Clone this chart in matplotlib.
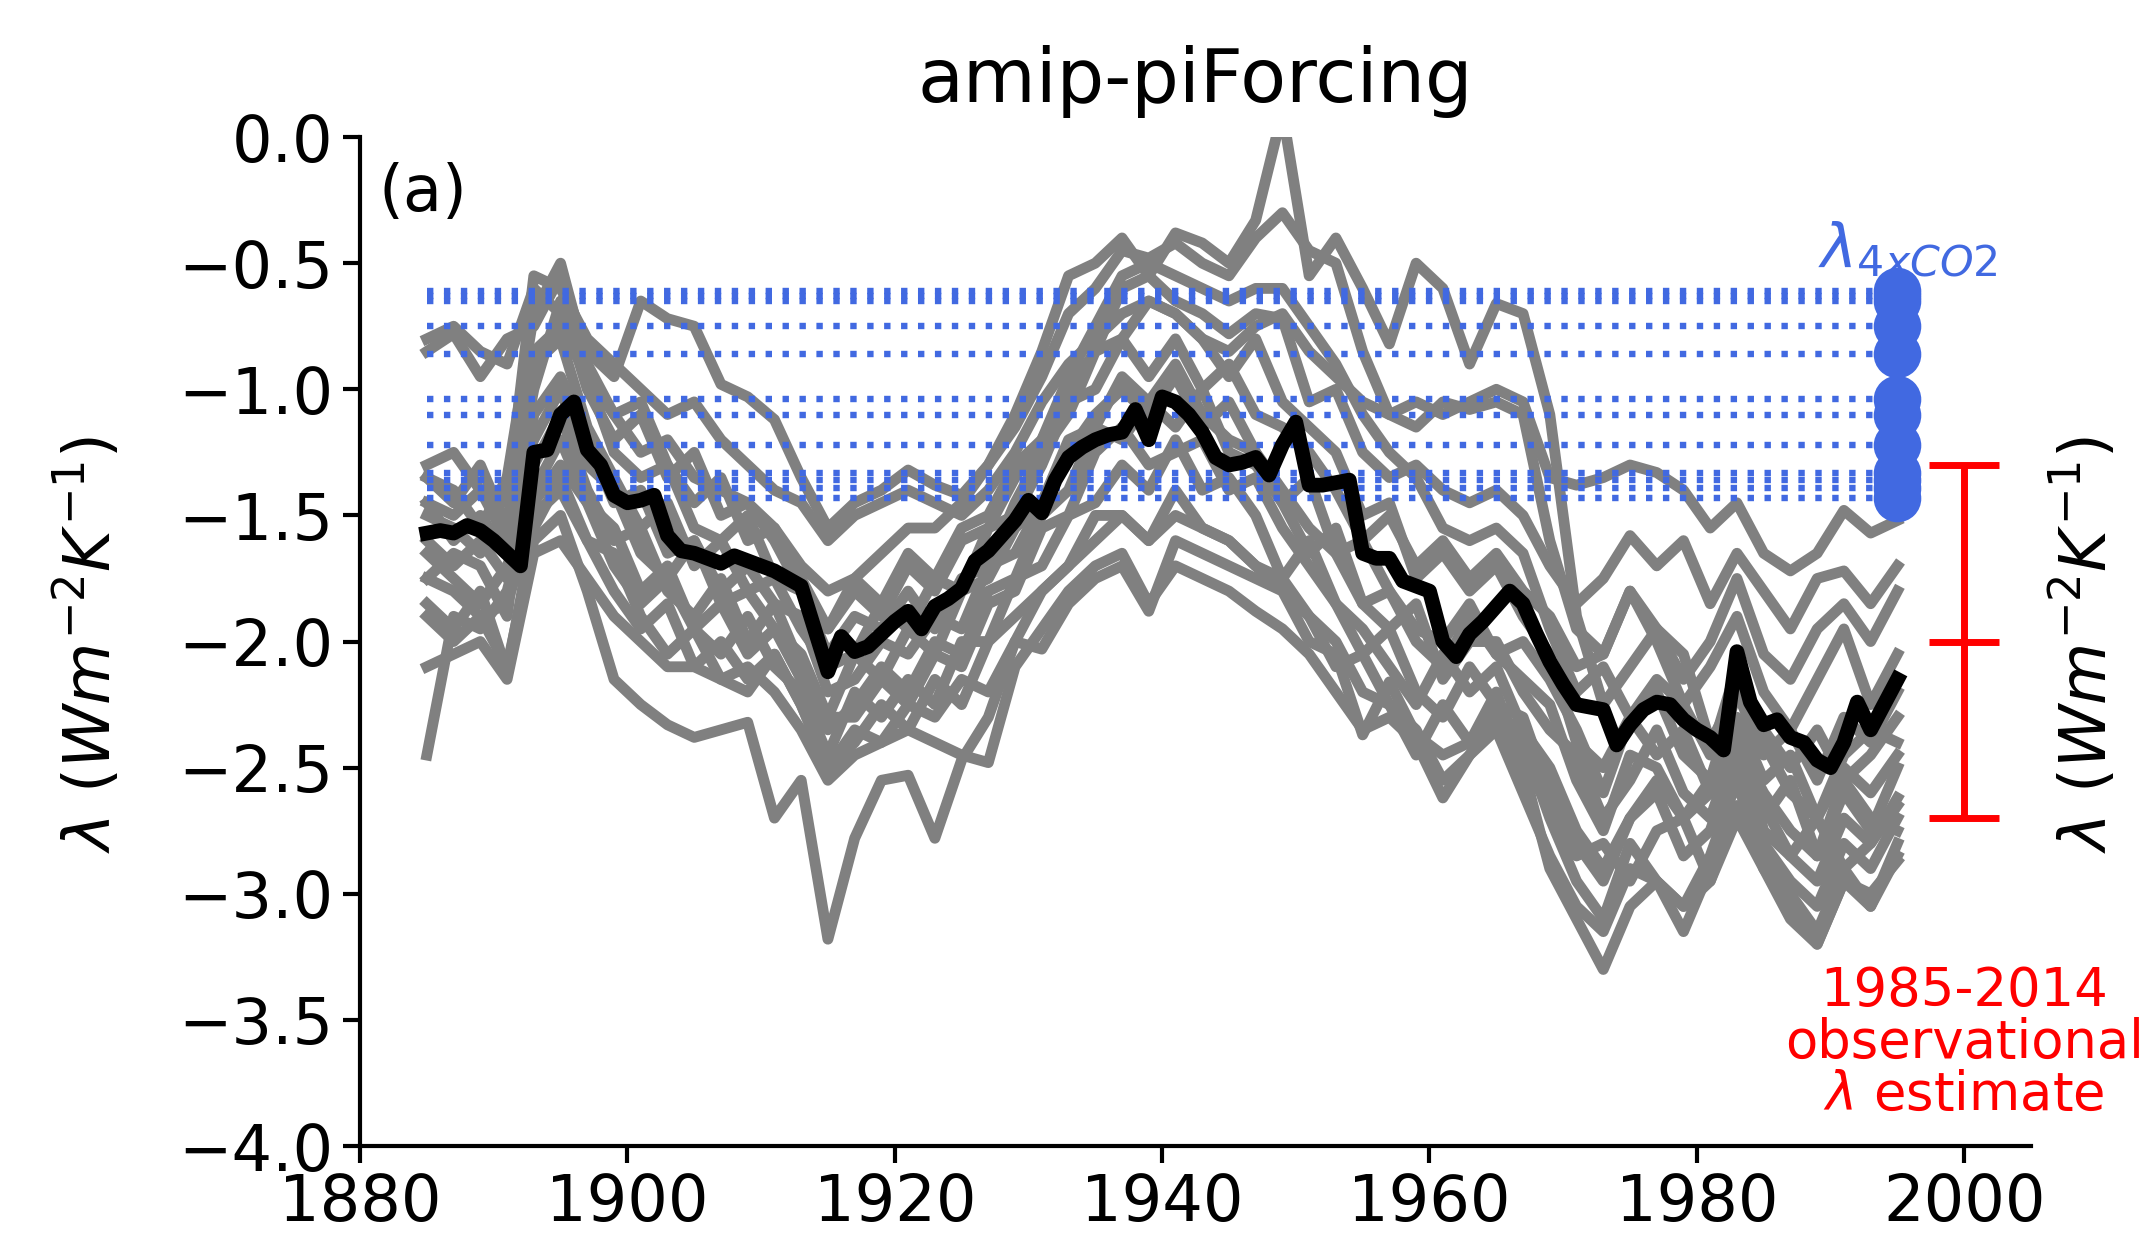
import matplotlib
matplotlib.use("Agg")
import matplotlib.pyplot as plt
import numpy as np

# multi-model mean (annual, 1885-1995)
mean_years = list(range(1885, 1996))
mean_lam = [-1.57, -1.56, -1.57, -1.54, -1.56, -1.60, -1.65, -1.70, -1.25, -1.24,
            -1.10, -1.05, -1.24, -1.30, -1.42, -1.45, -1.44, -1.42, -1.58, -1.64,
            -1.65, -1.67, -1.69, -1.66, -1.68, -1.70, -1.72, -1.75, -1.78, -1.95,
            -2.12, -1.98, -2.04, -2.02, -1.97, -1.92, -1.88, -1.95, -1.86, -1.83,
            -1.79, -1.68, -1.64, -1.58, -1.52, -1.44, -1.49, -1.36, -1.27, -1.23,
            -1.20, -1.18, -1.17, -1.08, -1.20, -1.03, -1.05, -1.10, -1.17, -1.27,
            -1.30, -1.29, -1.27, -1.34, -1.22, -1.13, -1.38, -1.38, -1.37, -1.36,
            -1.65, -1.67, -1.67, -1.76, -1.78, -1.80, -2.00, -2.06, -1.97, -1.92,
            -1.86, -1.80, -1.85, -1.97, -2.08, -2.17, -2.25, -2.26, -2.27, -2.41,
            -2.33, -2.27, -2.24, -2.25, -2.31, -2.35, -2.38, -2.43, -2.04, -2.24,
            -2.33, -2.31, -2.38, -2.40, -2.47, -2.50, -2.40, -2.24, -2.35, -2.25,
            -2.15]

# individual models, read every second year (1885, 1887, ..., 1995)
model_years = list(range(1885, 1996, 2))
m01 = [-0.85, -0.78, -0.95, -0.80, -0.75, -0.55, -0.85, -0.95, -0.65, -0.72, -0.75, -0.98, -1.03, -1.12,
       -1.35, -1.55, -1.45, -1.40, -1.32, -1.38, -1.42, -1.30, -1.15,
       -0.95, -0.70, -0.60, -0.45, -0.48, -0.42, -0.50, -0.55, -0.40, -0.30, -0.45, -0.50, -0.85, -1.10,
       -1.15, -1.05, -1.08, -1.05, -1.10,
       -1.60, -1.95, -2.05, -1.80, -2.00, -2.25, -2.10, -1.90, -2.20, -2.35, -2.15, -1.95, -2.25, -2.05]
m02 = [-0.80, -0.75, -0.85, -0.90, -0.60, -0.70, -0.95, -1.10, -1.25, -1.20, -1.35, -1.40, -1.45, -1.55,
       -1.70, -1.80, -1.75, -1.65, -1.55, -1.55, -1.45, -1.30, -1.10,
       -0.85, -0.55, -0.50, -0.40, -0.55, -0.38, -0.42, -0.50, -0.33, 0.10, -0.55, -0.40, -0.60, -0.82,
       -0.50, -0.60, -0.90, -0.66, -0.70,
       -1.10, -1.90, -2.25, -2.10, -1.95, -2.05, -2.40, -2.20, -2.45, -2.35, -2.55, -2.30, -2.40, -2.20]
m03 = [-1.30, -1.25, -1.40, -1.45, -0.55, -0.60, -0.80, -0.90, -1.00, -1.10, -1.05, -1.20, -1.30, -1.40,
       -1.45, -1.60, -1.50, -1.45, -1.40, -1.45, -1.50, -1.40, -1.25,
       -1.05, -0.90, -0.80, -0.70, -0.65, -0.70, -0.80, -0.85, -0.75, -0.70, -0.85, -0.95, -1.05, -1.10,
       -1.05, -1.10, -1.05, -1.00, -1.05,
       -1.35, -1.38, -1.35, -1.30, -1.33, -1.40, -1.55, -1.45, -1.65, -1.72, -1.65, -1.48, -1.57, -1.52]
m04 = [-1.35, -1.45, -1.30, -1.55, -1.00, -0.65, -1.00, -1.20, -1.10, -1.35, -1.25, -1.50, -1.45, -1.60,
       -1.80, -1.95, -1.75, -1.85, -1.65, -1.75, -1.55, -1.50, -1.30,
       -1.20, -1.00, -0.85, -0.60, -0.55, -0.65, -0.70, -0.78, -0.70, -0.72, -1.05, -1.00, -1.25, -1.35,
       -1.30, -1.40, -1.45, -1.40, -1.50,
       -1.70, -1.85, -1.75, -1.58, -1.70, -1.60, -1.85, -1.65, -1.80, -1.95, -1.75, -1.72, -1.85, -1.70]
m05 = [-1.45, -1.50, -1.40, -1.60, -0.90, -0.80, -1.15, -1.35, -1.55, -1.45, -1.70, -1.60, -1.80, -1.75,
       -1.95, -2.10, -2.05, -1.85, -1.95, -1.75, -1.80, -1.55, -1.50,
       -1.30, -1.05, -1.00, -0.80, -0.95, -0.80, -1.00, -0.90, -1.10, -1.15, -1.25, -1.40, -1.60, -1.50,
       -1.70, -1.60, -1.75, -1.65, -1.80,
       -1.90, -2.10, -2.05, -1.80, -1.95, -2.15, -2.00, -1.75, -2.05, -2.15, -1.95, -1.85, -2.00, -1.80]
m06 = [-1.50, -1.55, -1.65, -1.50, -1.20, -1.00, -1.30, -1.40, -1.65, -1.75, -1.60, -1.85, -1.80, -1.95,
       -2.05, -2.30, -2.05, -2.15, -1.95, -2.05, -1.80, -1.75, -1.55,
       -1.45, -1.25, -1.10, -1.00, -1.10, -0.95, -1.15, -1.05, -1.25, -1.45, -1.35, -1.65, -1.60, -1.80,
       -1.95, -2.00, -1.85, -2.05, -2.00,
       -2.15, -2.35, -2.60, -2.30, -2.20, -2.45, -2.55, -2.20, -2.40, -2.60, -2.70, -2.45, -2.35, -2.40]
m07 = [-1.60, -1.70, -1.60, -1.75, -1.30, -1.10, -1.40, -1.60, -1.55, -1.80, -1.90, -1.75, -2.00, -1.85,
       -2.10, -2.35, -2.25, -2.10, -2.20, -2.00, -2.05, -1.80, -1.75,
       -1.50, -1.40, -1.15, -1.20, -1.05, -1.15, -1.00, -1.25, -1.30, -1.45, -1.65, -1.55, -1.85, -1.95,
       -1.85, -2.15, -2.00, -2.00, -2.20,
       -2.35, -2.45, -2.70, -2.55, -2.35, -2.60, -2.70, -2.40, -2.70, -2.55, -2.85, -2.60, -2.75, -2.50]
m08 = [-1.65, -1.75, -1.85, -1.70, -1.45, -1.30, -1.45, -1.70, -1.85, -1.75, -1.95, -2.05, -1.90, -2.10,
       -2.20, -2.45, -2.20, -2.30, -2.15, -2.25, -2.00, -2.00, -1.75,
       -1.70, -1.50, -1.45, -1.30, -1.40, -1.20, -1.40, -1.35, -1.50, -1.75, -1.60, -1.85, -1.95, -2.10,
       -2.25, -2.05, -2.20, -2.10, -2.35,
       -2.50, -2.75, -2.90, -2.70, -2.60, -2.85, -2.75, -2.45, -2.65, -2.85, -2.95, -2.70, -2.80, -2.62]
m09 = [-1.75, -1.80, -1.90, -1.85, -1.50, -1.40, -1.60, -1.65, -1.90, -2.05, -1.95, -2.15, -2.20, -2.05,
       -2.25, -2.50, -2.40, -2.25, -2.35, -2.15, -2.25, -2.00, -1.90,
       -1.80, -1.70, -1.50, -1.50, -1.60, -1.40, -1.55, -1.60, -1.70, -1.80, -1.90, -2.10, -2.05, -2.25,
       -2.45, -2.25, -2.40, -2.20, -2.50,
       -2.65, -2.85, -2.80, -2.95, -2.75, -2.70, -2.95, -2.65, -2.80, -2.95, -3.05, -2.80, -2.90, -2.70]
m10 = [-1.90, -2.00, -1.90, -2.10, -1.60, -1.50, -1.80, -2.15, -2.25, -2.33, -2.38, -2.35, -2.32, -2.70,
       -2.55, -3.18, -2.78, -2.55, -2.53, -2.78, -2.47, -2.30, -2.00,
       -1.80, -1.70, -1.60, -1.50, -1.60, -1.50, -1.55, -1.60, -1.70, -1.75, -1.90, -2.00, -2.20, -2.25,
       -2.35, -2.55, -2.45, -2.35, -2.60,
       -2.85, -3.05, -3.15, -2.90, -2.95, -3.05, -2.85, -2.55, -2.90, -3.10, -3.20, -2.95, -3.05, -2.85]
m11 = [-2.10, -2.05, -2.00, -2.15, -1.65, -1.60, -1.75, -1.90, -2.00, -2.10, -2.10, -2.15, -2.10, -2.20,
       -2.35, -2.55, -2.45, -2.40, -2.35, -2.40, -2.45, -2.48, -2.10,
       -1.95, -1.80, -1.70, -1.65, -1.85, -1.70, -1.75, -1.80, -1.88, -1.95, -2.05, -2.20, -2.35, -2.30,
       -2.40, -2.62, -2.45, -2.30, -2.50,
       -2.90, -3.10, -3.30, -3.05, -2.95, -3.05, -2.95, -2.70, -2.90, -3.05, -3.20, -2.95, -3.00, -2.87]
m12 = [-2.45, -1.90, -1.95, -1.80, -1.40, -1.20, -1.45, -1.55, -1.80, -1.70, -1.95, -1.85, -2.05, -1.95,
       -2.15, -2.30, -2.30, -2.15, -2.25, -2.05, -2.10, -1.85, -1.80,
       -1.55, -1.50, -1.25, -1.15, -1.30, -1.25, -1.20, -1.40, -1.35, -1.55, -1.70, -1.85, -2.05, -1.95,
       -2.20, -2.30, -2.10, -2.25, -2.30,
       -2.60, -2.80, -2.95, -2.70, -2.55, -2.70, -2.60, -2.35, -2.75, -2.85, -2.70, -2.90, -2.80, -2.65]
m13 = [-1.35, -1.40, -1.55, -1.35, -0.70, -0.50, -0.90, -1.10, -1.05, -1.30, -1.45, -1.35, -1.60, -1.55,
       -1.75, -1.95, -1.80, -1.90, -1.70, -1.80, -1.60, -1.55, -1.35,
       -1.20, -0.95, -0.75, -0.55, -0.50, -0.55, -0.60, -0.65, -0.60, -0.60, -0.75, -0.90, -1.10, -1.25,
       -1.35, -1.55, -1.60, -1.55, -1.65,
       -1.95, -2.20, -2.10, -2.30, -2.15, -2.25, -2.45, -2.10, -2.35, -2.50, -2.35, -2.55, -2.45, -2.30]
m14 = [-1.45, -1.60, -1.50, -1.65, -0.85, -0.75, -0.95, -1.25, -1.35, -1.30, -1.55, -1.60, -1.50, -1.75,
       -1.80, -2.05, -1.90, -1.95, -1.80, -1.95, -1.75, -1.70, -1.45,
       -1.25, -1.10, -0.85, -0.80, -0.65, -0.70, -0.80, -0.95, -0.80, -1.05, -1.15, -1.25, -1.50, -1.45,
       -1.75, -1.65, -1.80, -1.70, -1.90,
       -2.05, -2.40, -2.50, -2.30, -2.45, -2.35, -2.60, -2.30, -2.55, -2.45, -2.70, -2.50, -2.60, -2.45]
m15 = [-1.75, -1.65, -1.70, -1.90, -1.10, -0.95, -1.20, -1.45, -1.40, -1.65, -1.60, -1.80, -1.70, -1.85,
       -1.90, -2.20, -2.15, -2.00, -2.05, -1.90, -1.95, -1.70, -1.65,
       -1.45, -1.20, -1.15, -0.95, -1.05, -0.90, -1.10, -1.20, -1.25, -1.40, -1.55, -1.65, -1.85, -1.80,
       -2.00, -2.10, -1.90, -2.05, -2.15,
       -2.25, -2.55, -2.75, -2.45, -2.50, -2.70, -2.55, -2.40, -2.60, -2.75, -2.85, -2.55, -2.70, -2.75]
m16 = [-1.85, -1.95, -1.80, -2.12, -1.55, -1.35, -1.60, -1.80, -1.95, -1.85, -2.10, -2.00, -2.15, -2.05,
       -2.25, -2.50, -2.35, -2.40, -2.25, -2.30, -2.15, -2.20, -2.00,
       -2.03, -1.85, -1.75, -1.70, -1.88, -1.60, -1.65, -1.70, -1.75, -1.80, -2.00, -2.05, -2.37, -2.16,
       -2.37, -2.45, -2.40, -2.25, -2.40,
       -2.70, -2.95, -3.10, -2.80, -2.95, -3.15, -2.90, -2.50, -2.85, -3.00, -3.15, -2.90, -3.05, -2.80]
models = [m01, m02, m03, m04, m05, m06, m07, m08, m09, m10, m11, m12, m13, m14, m15, m16]

# abrupt-4xCO2 feedbacks
lam_4xco2 = [-0.61, -0.63, -0.65, -0.75, -0.86, -1.04, -1.10, -1.22, -1.33, -1.36, -1.39, -1.43]
line_start, line_end = 1885, 1995

# observational estimate
obs_x = 2000
obs_mean = -2.0
obs_err = 0.7

plt.rcParams['font.family'] = 'DejaVu Sans'
fig = plt.figure(figsize=(10.76, 6.27), dpi=200)
ax = fig.add_axes([0.1673, 0.0861, 0.7765, 0.8046])

for m in models:
    ax.plot(model_years, m, color='gray', lw=3.9, zorder=2)

for lam in lam_4xco2:
    ax.plot([line_start, line_end], [lam, lam], color='royalblue', ls=':', lw=2.3, zorder=3)
ax.scatter([line_end] * len(lam_4xco2), lam_4xco2, s=260, color='royalblue', zorder=5, clip_on=False)

ax.plot(mean_years, mean_lam, color='black', lw=5.3, zorder=4)

ax.errorbar([obs_x], [obs_mean], yerr=[obs_err], color='red', lw=2.5, capsize=12.5,
            capthick=2.5, marker='_', ms=25, mew=2.5, clip_on=False, zorder=5)

ax.text(obs_x, -3.59, '1985-2014\nobservational\n$\\lambda$ estimate', color='red',
        fontsize=19, ha='center', va='center', linespacing=1.0, clip_on=False)
ax.text(1995.8, -0.45, r'$\lambda_{4xCO2}$', color='royalblue', fontsize=22,
        ha='center', va='center', clip_on=False)
ax.text(0.011, 0.975, '(a)', transform=ax.transAxes, fontsize=23, va='top')

ax.set_xlim(1880, 2005)
ax.set_ylim(-4.0, 0.0)
ax.set_xticks(np.arange(1880, 2001, 20))
ax.set_yticks(np.arange(-4.0, 0.01, 0.5))
ax.tick_params(labelsize=23, width=1.5, length=6)
for s in ['top', 'right']:
    ax.spines[s].set_visible(False)
for s in ['left', 'bottom']:
    ax.spines[s].set_linewidth(1.5)
ax.set_title('amip-piForcing', fontsize=27, pad=12.5)

ylab = r'$\lambda$ ($Wm^{-2}K^{-1}$)'
fig.text(0.0415, 0.486, ylab, rotation=90, fontsize=23, ha='center', va='center')
fig.text(0.969, 0.486, ylab, rotation=90, fontsize=23, ha='center', va='center')

fig.savefig('out.png', dpi=200)
